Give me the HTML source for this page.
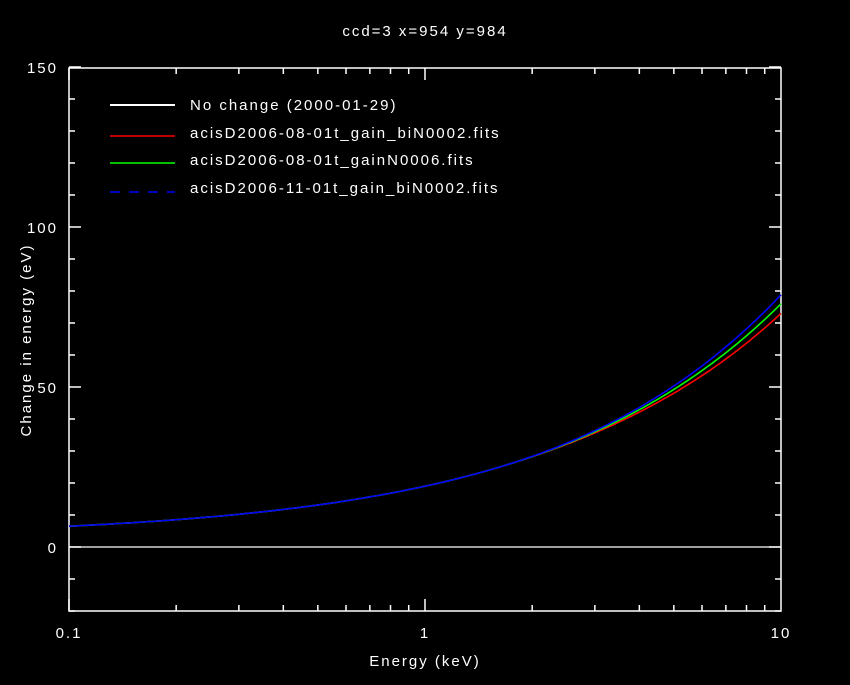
<!DOCTYPE html>
<html><head><style>
body{margin:0;background:#000}
svg text{font-family:"Liberation Sans",sans-serif;fill:#fff;font-size:15px;letter-spacing:2px}
</style></head><body>
<svg id="s" width="850" height="680" xmlns="http://www.w3.org/2000/svg">
<rect width="850" height="680" fill="#000"/>
<rect x="69" y="68" width="712" height="543" fill="none" stroke="#fff" stroke-width="1.5"/>
<g id="ticks" stroke="#fff" stroke-width="1.5"></g>
<line x1="69" y1="547" x2="781" y2="547" stroke="#fff" stroke-width="1.2"/>
<g id="curves" fill="none" stroke-width="1.6"></g>
<text x="425" y="36" text-anchor="middle">ccd=3 x=954 y=984</text>
<text x="425" y="666" text-anchor="middle">Energy (keV)</text>
<text transform="translate(31,340) rotate(-90)" text-anchor="middle">Change in energy (eV)</text>
<g text-anchor="middle">
<text x="69" y="638">0.1</text><text x="425" y="638">1</text><text x="781" y="638">10</text>
</g>
<g text-anchor="end">
<text x="58" y="73">150</text><text x="58" y="233">100</text><text x="58" y="393">50</text><text x="58" y="553">0</text>
</g>
<line x1="110" y1="105" x2="175" y2="105" stroke="#fff" stroke-width="2"/>
<line x1="110" y1="136" x2="175" y2="136" stroke="#f00" stroke-width="1.5"/>
<line x1="110" y1="163" x2="175" y2="163" stroke="#0f0" stroke-width="1.5"/>
<line x1="110" y1="192" x2="175" y2="192" stroke="#00f" stroke-width="1.5" stroke-dasharray="10,9"/>
<text x="190" y="110">No change (2000-01-29)</text>
<text x="190" y="138">acisD2006-08-01t_gain_biN0002.fits</text>
<text x="190" y="165">acisD2006-08-01t_gainN0006.fits</text>
<text x="190" y="193">acisD2006-11-01t_gain_biN0002.fits</text>
</svg>
<script>
function X(l){return 425+356*l}function Y(v){return 547-3.2*v}
var t=document.getElementById('ticks'),h='';
for(var d=-1;d<1;d++)for(var k=1;k<10;k++){var x=X(d+Math.log10(k));var L=k==1?12:6;
h+='<line x1="'+x+'" y1="611" x2="'+x+'" y2="'+(611-L)+'"/><line x1="'+x+'" y1="68" x2="'+x+'" y2="'+(68+L)+'"/>';}
for(var v=-20;v<=150;v+=10){var y=Y(v),L=v%50==0?12:6;
h+='<line x1="69" y1="'+y+'" x2="'+(69+L)+'" y2="'+y+'"/><line x1="781" y1="'+y+'" x2="'+(781-L)+'" y2="'+y+'"/>';}
t.innerHTML=h;
function f(l){return 16.01*Math.pow(10,0.659*l)+2.99}
var cols=[['#f00',-3],['#0f0',0],['#00f',2.8]],g=document.getElementById('curves'),s='';
cols.forEach(function(c){var p=[];for(var l=-1;l<=1.0001;l+=0.01){var tt=l>0.2?Math.pow((l-0.2)/0.8,2):0;p.push(X(l).toFixed(1)+','+Y(f(l)+c[1]*tt).toFixed(1));}
s+='<polyline stroke="'+c[0]+'" points="'+p.join(' ')+'"/>';});
g.innerHTML=s;
</script>
</body></html>
